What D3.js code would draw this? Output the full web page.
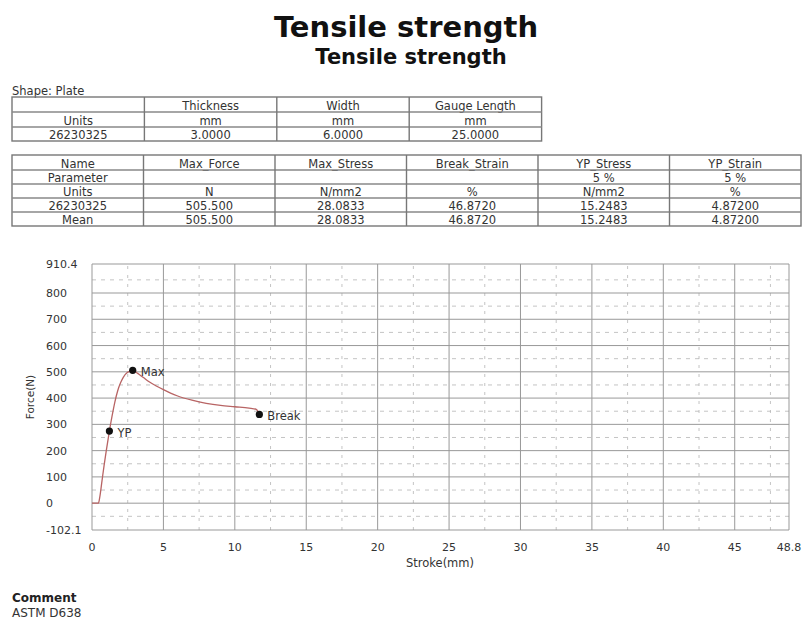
<!DOCTYPE html>
<html>
<head>
<meta charset="utf-8">
<script src="https://cdn.jsdelivr.net/npm/d3@7"></script>
<style>
  body { margin: 0; background: #fff; }
  svg { font-family: "DejaVu Sans", Verdana, sans-serif; }
</style>
</head>
<body>
<div class="page"></div>
<script>
var width = 804;
var height = 621;

// specimen table
var shapeCols = ["", "Thickness", "Width", "Gauge Length"];
var shapeUnits = ["Units", "mm", "mm", "mm"];
var shapeValues = ["26230325", "3.0000", "6.0000", "25.0000"];

// results table
var resultCols = ["Name", "Max_Force", "Max_Stress", "Break_Strain", "YP_Stress", "YP_Strain"];
var resultParams = ["Parameter", "", "", "", "5 %", "5 %"];
var resultUnits = ["Units", "N", "N/mm2", "%", "N/mm2", "%"];
var resultSample = ["26230325", "505.500", "28.0833", "46.8720", "15.2483", "4.87200"];
var resultMean = ["Mean", "505.500", "28.0833", "46.8720", "15.2483", "4.87200"];

// force / stroke curve
var strokeMm = [0, 0.45, 0.55, 0.7, 0.85, 1.0, 1.218, 1.4, 1.6, 1.8, 2.0, 2.2, 2.45, 2.7, 2.85,
                3.2, 3.6, 4.0, 4.5, 5.0, 5.5, 6.0, 7.0, 8.0, 9.0, 10.0, 11.0, 11.5, 11.718];
var forceN = [0, 0, 25, 85, 145, 200, 274.5, 330, 385, 428, 458, 480, 496, 503, 505.5,
              494, 478, 462, 446, 432, 419, 408, 392, 380, 372, 367, 362, 357, 338];

var points = [
  {name: "YP", x: 1.218, y: 274.5},
  {name: "Max", x: 2.85, y: 505.5},
  {name: "Break", x: 11.718, y: 338}
];

var xTicks = [0, 5, 10, 15, 20, 25, 30, 35, 40, 45, 48.8];
var yTicks = [-102.1, 0, 100, 200, 300, 400, 500, 600, 700, 800, 910.4];
var xMinor = [2.5, 7.5, 12.5, 17.5, 22.5, 27.5, 32.5, 37.5, 42.5, 47.5];
var yMinor = [-50, 50, 150, 250, 350, 450, 550, 650, 750, 850];

var svg = d3.select("div.page").append("svg")
    .attr("width", width)
    .attr("height", height);

// titles
svg.append("text").attr("x", 406).attr("y", 37)
    .attr("text-anchor", "middle").attr("font-size", 29).attr("font-weight", "bold")
    .attr("fill", "#111").text("Tensile strength");
svg.append("text").attr("x", 411).attr("y", 64)
    .attr("text-anchor", "middle").attr("font-size", 21).attr("font-weight", "bold")
    .attr("fill", "#111").text("Tensile strength");

svg.append("text").attr("x", 12).attr("y", 95)
    .attr("font-size", 11.5).attr("fill", "#333").text("Shape: Plate");

function drawTable(rows, left, top, colW, rowHs) {
  var g = svg.append("g");
  var nCols = rows[0].length;
  var y = top;
  var tw = colW * nCols;
  var totalH = d3.sum(rowHs);
  g.append("rect").attr("x", left).attr("y", top).attr("width", tw).attr("height", totalH)
      .attr("fill", "none").attr("stroke", "#777").attr("stroke-width", 1.4);
  rows.forEach(function(row, i) {
    if (i > 0) {
      g.append("line").attr("x1", left).attr("x2", left + tw).attr("y1", y).attr("y2", y)
          .attr("stroke", "#888").attr("stroke-width", 1.4);
    }
    row.forEach(function(cell, j) {
      g.append("text")
          .attr("x", left + colW * j + colW / 2)
          .attr("y", y + rowHs[i] / 2 + 5)
          .attr("text-anchor", "middle")
          .attr("font-size", 11.5)
          .attr("fill", "#333")
          .text(cell);
    });
    y += rowHs[i];
  });
  for (var j = 1; j < nCols; j++) {
    g.append("line").attr("x1", left + colW * j).attr("x2", left + colW * j)
        .attr("y1", top).attr("y2", top + totalH)
        .attr("stroke", "#777").attr("stroke-width", 1.4);
  }
}

drawTable([shapeCols, shapeUnits, shapeValues], 12, 97, 132.4, [15, 15, 14]);
drawTable([resultCols, resultParams, resultUnits, resultSample, resultMean], 12, 155, 131.5, [15, 14, 14, 14, 14]);

// chart
var x = d3.scaleLinear().domain([0, 48.8]).range([92, 789]);
var y = d3.scaleLinear().domain([-102.1, 910.4]).range([530, 264]);

var grid = svg.append("g");
grid.selectAll("line.ymin").data(yMinor).enter().append("line")
    .attr("x1", x(0)).attr("x2", x(48.8))
    .attr("y1", function(d) { return y(d); }).attr("y2", function(d) { return y(d); })
    .attr("stroke", "#b5b5b5").attr("stroke-width", 0.8).attr("stroke-dasharray", "4,5");
grid.selectAll("line.xmin").data(xMinor).enter().append("line")
    .attr("y1", y(-102.1)).attr("y2", y(910.4))
    .attr("x1", function(d) { return x(d); }).attr("x2", function(d) { return x(d); })
    .attr("stroke", "#b5b5b5").attr("stroke-width", 0.8).attr("stroke-dasharray", "3,6");
grid.selectAll("line.ymaj").data(yTicks).enter().append("line")
    .attr("x1", x(0)).attr("x2", x(48.8))
    .attr("y1", function(d) { return y(d); }).attr("y2", function(d) { return y(d); })
    .attr("stroke", "#999").attr("stroke-width", 1);
grid.selectAll("line.xmaj").data(xTicks).enter().append("line")
    .attr("y1", y(-102.1)).attr("y2", y(910.4))
    .attr("x1", function(d) { return x(d); }).attr("x2", function(d) { return x(d); })
    .attr("stroke", "#999").attr("stroke-width", 1);

// tick labels
svg.append("g").selectAll("text").data(yTicks).enter().append("text")
    .attr("x", 46).attr("y", function(d) { return y(d) + 4; })
    .attr("font-size", 11).attr("fill", "#333")
    .text(function(d) { return d; });
svg.append("g").selectAll("text").data(xTicks).enter().append("text")
    .attr("x", function(d) { return x(d); }).attr("y", 551)
    .attr("text-anchor", "middle").attr("font-size", 11).attr("fill", "#333")
    .text(function(d) { return d; });

svg.append("text").attr("x", 440).attr("y", 567)
    .attr("text-anchor", "middle").attr("font-size", 11.5).attr("fill", "#333").text("Stroke(mm)");
svg.append("text").attr("transform", "translate(34,397) rotate(-90)")
    .attr("text-anchor", "middle").attr("font-size", 10.5).attr("fill", "#333").text("Force(N)");

var line = d3.line()
    .x(function(d) { return x(d[0]); })
    .y(function(d) { return y(d[1]); })
    .curve(d3.curveMonotoneX);

svg.append("path")
    .datum(d3.zip(strokeMm, forceN))
    .attr("d", line)
    .attr("fill", "none")
    .attr("stroke", "#b86464")
    .attr("stroke-width", 1.3);

var marks = svg.append("g");
marks.selectAll("circle").data(points).enter().append("circle")
    .attr("cx", function(d) { return x(d.x); })
    .attr("cy", function(d) { return y(d.y); })
    .attr("r", 3.6).attr("fill", "#111");
marks.selectAll("text").data(points).enter().append("text")
    .attr("x", function(d) { return x(d.x) + 8; })
    .attr("y", function(d) { return y(d.y) + 6; })
    .attr("font-size", 11.5).attr("fill", "#333")
    .text(function(d) { return d.name; });

svg.append("text").attr("x", 12).attr("y", 602)
    .attr("font-size", 12).attr("font-weight", "bold").attr("fill", "#222").text("Comment");
svg.append("text").attr("x", 12).attr("y", 617)
    .attr("font-size", 12).attr("fill", "#333").text("ASTM D638");
</script>
</body>
</html>
